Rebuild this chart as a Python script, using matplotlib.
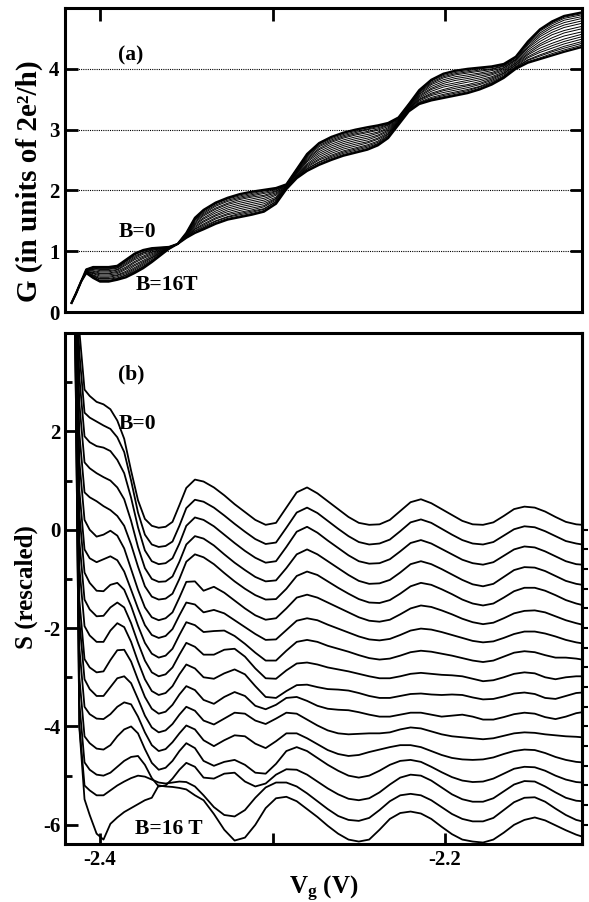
'''
Script used to plot conductance (a) and rescaled thermopower (b) vs gate voltage, B=0..16T
'''
import matplotlib
matplotlib.use('Agg')
import matplotlib.pyplot as plt
from matplotlib.ticker import FixedLocator

# ---------------------------------
# panel (a): gate voltage grid [V] and G [2e^2/h], one list per field value
vg_g = [-2.4165, -2.414, -2.411, -2.408, -2.404, -2.400, -2.395, -2.390, -2.385, -2.380,
        -2.375, -2.370, -2.365, -2.360, -2.355, -2.350, -2.345, -2.340, -2.333, -2.326,
        -2.319, -2.312, -2.305, -2.298, -2.292, -2.286, -2.280, -2.273, -2.266, -2.259,
        -2.252, -2.245, -2.239, -2.233, -2.227, -2.221, -2.215, -2.208, -2.201, -2.194,
        -2.187, -2.180, -2.173, -2.166, -2.159, -2.152, -2.145, -2.138, -2.131, -2.1205]

g_b00 = [0.15, 0.30, 0.50, 0.70, 0.74, 0.74, 0.74, 0.76, 0.86, 0.96, 1.02, 1.05, 1.06, 1.07, 1.12, 1.30, 1.55, 1.68, 1.80, 1.88,
         1.94, 1.98, 2.01, 2.04, 2.10, 2.35, 2.60, 2.78, 2.88, 2.95, 3.00, 3.04, 3.07, 3.11, 3.20, 3.42, 3.65, 3.82, 3.92, 3.97,
         4.00, 4.02, 4.04, 4.08, 4.20, 4.45, 4.65, 4.78, 4.87, 4.93]
g_b01 = [0.15, 0.30, 0.50, 0.70, 0.74, 0.73, 0.73, 0.75, 0.85, 0.95, 1.01, 1.04, 1.06, 1.07, 1.12, 1.30, 1.54, 1.67, 1.79, 1.87,
         1.93, 1.97, 2.00, 2.03, 2.10, 2.35, 2.59, 2.77, 2.87, 2.94, 2.99, 3.03, 3.06, 3.10, 3.20, 3.42, 3.64, 3.81, 3.91, 3.96,
         3.99, 4.01, 4.03, 4.07, 4.19, 4.44, 4.64, 4.76, 4.85, 4.91]
g_b02 = [0.15, 0.30, 0.50, 0.70, 0.73, 0.72, 0.72, 0.74, 0.84, 0.94, 1.00, 1.03, 1.05, 1.07, 1.12, 1.29, 1.53, 1.66, 1.78, 1.86,
         1.91, 1.95, 1.99, 2.02, 2.09, 2.34, 2.58, 2.76, 2.85, 2.92, 2.97, 3.01, 3.05, 3.09, 3.19, 3.41, 3.63, 3.80, 3.89, 3.94,
         3.97, 4.00, 4.02, 4.06, 4.19, 4.43, 4.62, 4.74, 4.83, 4.89]
g_b03 = [0.15, 0.30, 0.50, 0.69, 0.72, 0.71, 0.71, 0.73, 0.83, 0.92, 0.98, 1.02, 1.04, 1.07, 1.12, 1.29, 1.52, 1.64, 1.76, 1.84,
         1.89, 1.93, 1.97, 2.01, 2.09, 2.33, 2.57, 2.74, 2.83, 2.90, 2.95, 3.00, 3.03, 3.08, 3.19, 3.41, 3.62, 3.78, 3.87, 3.92,
         3.95, 3.98, 4.00, 4.05, 4.18, 4.41, 4.59, 4.71, 4.80, 4.86]
g_b04 = [0.15, 0.30, 0.50, 0.69, 0.71, 0.70, 0.70, 0.72, 0.81, 0.90, 0.97, 1.01, 1.04, 1.06, 1.12, 1.29, 1.51, 1.62, 1.74, 1.82,
         1.87, 1.91, 1.95, 1.99, 2.09, 2.32, 2.55, 2.72, 2.81, 2.88, 2.93, 2.97, 3.01, 3.07, 3.18, 3.40, 3.61, 3.76, 3.85, 3.90,
         3.93, 3.96, 3.99, 4.04, 4.16, 4.39, 4.56, 4.68, 4.76, 4.83]
g_b05 = [0.15, 0.30, 0.50, 0.69, 0.70, 0.68, 0.68, 0.70, 0.79, 0.88, 0.95, 0.99, 1.03, 1.06, 1.12, 1.28, 1.49, 1.60, 1.71, 1.79,
         1.85, 1.89, 1.92, 1.98, 2.08, 2.31, 2.53, 2.69, 2.79, 2.86, 2.91, 2.95, 2.99, 3.05, 3.17, 3.39, 3.59, 3.74, 3.82, 3.87,
         3.90, 3.93, 3.97, 4.02, 4.15, 4.36, 4.53, 4.64, 4.72, 4.79]
g_b06 = [0.15, 0.30, 0.50, 0.68, 0.68, 0.66, 0.66, 0.69, 0.77, 0.86, 0.92, 0.98, 1.02, 1.06, 1.12, 1.27, 1.47, 1.58, 1.69, 1.77,
         1.82, 1.86, 1.90, 1.96, 2.07, 2.30, 2.51, 2.67, 2.76, 2.83, 2.88, 2.92, 2.96, 3.03, 3.16, 3.38, 3.58, 3.71, 3.79, 3.84,
         3.87, 3.91, 3.94, 4.01, 4.14, 4.34, 4.49, 4.60, 4.68, 4.75]
g_b07 = [0.15, 0.30, 0.50, 0.68, 0.67, 0.64, 0.64, 0.67, 0.74, 0.83, 0.90, 0.96, 1.01, 1.06, 1.12, 1.27, 1.45, 1.55, 1.66, 1.74,
         1.79, 1.83, 1.87, 1.94, 2.07, 2.29, 2.49, 2.64, 2.73, 2.80, 2.85, 2.89, 2.94, 3.01, 3.15, 3.37, 3.56, 3.68, 3.76, 3.81,
         3.84, 3.88, 3.92, 3.99, 4.12, 4.31, 4.45, 4.56, 4.63, 4.70]
g_b08 = [0.15, 0.30, 0.50, 0.67, 0.65, 0.63, 0.63, 0.65, 0.72, 0.81, 0.88, 0.94, 1.00, 1.06, 1.12, 1.26, 1.43, 1.53, 1.63, 1.71,
         1.76, 1.80, 1.84, 1.92, 2.06, 2.28, 2.47, 2.61, 2.70, 2.77, 2.82, 2.86, 2.91, 2.99, 3.14, 3.36, 3.54, 3.66, 3.73, 3.77,
         3.81, 3.85, 3.90, 3.97, 4.10, 4.28, 4.41, 4.51, 4.59, 4.66]
g_b09 = [0.15, 0.30, 0.50, 0.67, 0.64, 0.61, 0.61, 0.63, 0.70, 0.78, 0.85, 0.92, 0.99, 1.05, 1.12, 1.26, 1.41, 1.50, 1.60, 1.68,
         1.73, 1.77, 1.81, 1.89, 2.06, 2.27, 2.44, 2.58, 2.67, 2.74, 2.79, 2.83, 2.89, 2.97, 3.13, 3.35, 3.52, 3.63, 3.70, 3.74,
         3.78, 3.82, 3.87, 3.95, 4.09, 4.25, 4.38, 4.47, 4.54, 4.61]
g_b10 = [0.15, 0.30, 0.50, 0.66, 0.63, 0.59, 0.59, 0.61, 0.67, 0.76, 0.83, 0.90, 0.98, 1.05, 1.12, 1.25, 1.39, 1.48, 1.58, 1.65,
         1.70, 1.74, 1.78, 1.87, 2.05, 2.25, 2.42, 2.55, 2.64, 2.71, 2.76, 2.80, 2.86, 2.95, 3.12, 3.34, 3.50, 3.60, 3.66, 3.71,
         3.74, 3.79, 3.85, 3.93, 4.07, 4.23, 4.34, 4.42, 4.49, 4.57]
g_b11 = [0.15, 0.30, 0.50, 0.66, 0.61, 0.57, 0.57, 0.60, 0.65, 0.73, 0.81, 0.89, 0.97, 1.05, 1.12, 1.24, 1.37, 1.45, 1.55, 1.62,
         1.67, 1.71, 1.75, 1.86, 2.04, 2.24, 2.40, 2.52, 2.61, 2.68, 2.73, 2.78, 2.84, 2.93, 3.12, 3.34, 3.49, 3.58, 3.64, 3.68,
         3.72, 3.76, 3.83, 3.92, 4.06, 4.20, 4.30, 4.38, 4.45, 4.53]
g_b12 = [0.15, 0.30, 0.50, 0.65, 0.60, 0.55, 0.55, 0.58, 0.63, 0.71, 0.79, 0.87, 0.96, 1.05, 1.12, 1.24, 1.36, 1.43, 1.53, 1.60,
         1.64, 1.68, 1.73, 1.84, 2.04, 2.23, 2.38, 2.50, 2.58, 2.65, 2.70, 2.75, 2.81, 2.92, 3.11, 3.33, 3.47, 3.56, 3.61, 3.65,
         3.69, 3.74, 3.81, 3.90, 4.04, 4.18, 4.27, 4.34, 4.41, 4.49]
g_b13 = [0.15, 0.30, 0.50, 0.65, 0.59, 0.54, 0.54, 0.56, 0.61, 0.69, 0.77, 0.85, 0.95, 1.04, 1.12, 1.23, 1.34, 1.41, 1.50, 1.57,
         1.62, 1.66, 1.70, 1.82, 2.03, 2.22, 2.36, 2.47, 2.56, 2.63, 2.68, 2.73, 2.79, 2.90, 3.10, 3.32, 3.45, 3.53, 3.58, 3.62,
         3.66, 3.71, 3.79, 3.88, 4.03, 4.15, 4.23, 4.30, 4.37, 4.45]
g_b14 = [0.15, 0.30, 0.50, 0.65, 0.58, 0.52, 0.52, 0.55, 0.60, 0.67, 0.75, 0.84, 0.94, 1.04, 1.12, 1.23, 1.33, 1.39, 1.49, 1.56,
         1.60, 1.64, 1.69, 1.81, 2.03, 2.22, 2.35, 2.46, 2.54, 2.61, 2.66, 2.71, 2.77, 2.89, 3.09, 3.31, 3.44, 3.51, 3.56, 3.60,
         3.64, 3.70, 3.77, 3.87, 4.02, 4.14, 4.21, 4.28, 4.34, 4.42]
g_b15 = [0.15, 0.30, 0.50, 0.64, 0.57, 0.51, 0.51, 0.54, 0.58, 0.66, 0.74, 0.83, 0.94, 1.04, 1.12, 1.22, 1.31, 1.38, 1.47, 1.54,
         1.58, 1.62, 1.67, 1.79, 2.02, 2.21, 2.33, 2.44, 2.52, 2.59, 2.64, 2.69, 2.76, 2.87, 3.09, 3.31, 3.43, 3.50, 3.54, 3.58,
         3.62, 3.68, 3.76, 3.86, 4.01, 4.12, 4.18, 4.25, 4.31, 4.39]
g_b16 = [0.15, 0.30, 0.50, 0.64, 0.56, 0.50, 0.50, 0.53, 0.57, 0.64, 0.72, 0.82, 0.93, 1.04, 1.12, 1.22, 1.30, 1.36, 1.45, 1.52,
         1.56, 1.60, 1.65, 1.78, 2.02, 2.20, 2.32, 2.42, 2.50, 2.57, 2.62, 2.67, 2.74, 2.86, 3.08, 3.30, 3.42, 3.48, 3.52, 3.56,
         3.60, 3.66, 3.74, 3.85, 4.00, 4.10, 4.16, 4.22, 4.28, 4.36]

# ---------------------------------
# panel (b): gate voltage grid [V], S trace above its offset, offsets of traces
vg_s = [-2.420, -2.415, -2.412, -2.409, -2.406, -2.402, -2.398, -2.394, -2.390, -2.386,
        -2.382, -2.378, -2.374, -2.370, -2.366, -2.362, -2.358, -2.354, -2.350, -2.345,
        -2.340, -2.334, -2.328, -2.322, -2.316, -2.310, -2.304, -2.298, -2.292, -2.286,
        -2.280, -2.274, -2.268, -2.262, -2.256, -2.250, -2.244, -2.238, -2.232, -2.226,
        -2.220, -2.214, -2.208, -2.202, -2.196, -2.190, -2.184, -2.178, -2.172, -2.166,
        -2.160, -2.154, -2.148, -2.142, -2.136, -2.130, -2.124, -2.1205]

s_b00 = [8.0, 6.0, 4.05, 2.85, 2.72, 2.6, 2.55, 2.45, 2.22, 1.85, 1.2, 0.6, 0.22, 0.08, 0.04, 0.06, 0.16, 0.5, 0.85, 1.02,
         0.98, 0.86, 0.7, 0.52, 0.36, 0.2, 0.1, 0.14, 0.45, 0.76, 0.86, 0.74, 0.58, 0.42, 0.26, 0.14, 0.1, 0.11, 0.2, 0.38,
         0.56, 0.62, 0.54, 0.42, 0.3, 0.18, 0.11, 0.1, 0.15, 0.28, 0.42, 0.47, 0.45, 0.37, 0.26, 0.16, 0.11, 0.1]
s_b01 = [8.4, 6.4, 4.0, 2.78, 2.68, 2.6, 2.52, 2.45, 2.28, 1.98, 1.4, 0.75, 0.3, 0.1, 0.05, 0.07, 0.16, 0.48, 0.84, 1.01,
         0.97, 0.85, 0.69, 0.52, 0.36, 0.21, 0.11, 0.14, 0.44, 0.75, 0.85, 0.74, 0.58, 0.42, 0.27, 0.15, 0.1, 0.12, 0.2, 0.37,
         0.55, 0.61, 0.54, 0.42, 0.3, 0.19, 0.12, 0.1, 0.15, 0.28, 0.41, 0.47, 0.45, 0.37, 0.27, 0.17, 0.12, 0.1]
s_b02 = [8.8, 6.8, 3.9, 2.7, 2.58, 2.5, 2.47, 2.4, 2.22, 1.95, 1.45, 0.85, 0.38, 0.16, 0.1, 0.12, 0.22, 0.52, 0.88, 1.05,
         1.0, 0.87, 0.7, 0.53, 0.37, 0.23, 0.13, 0.16, 0.45, 0.76, 0.86, 0.74, 0.58, 0.43, 0.28, 0.16, 0.11, 0.12, 0.2, 0.36,
         0.53, 0.59, 0.52, 0.41, 0.3, 0.19, 0.12, 0.09, 0.14, 0.27, 0.4, 0.46, 0.44, 0.36, 0.26, 0.16, 0.1, 0.09]
s_b03 = [9.2, 7.2, 3.77, 2.57, 2.45, 2.35, 2.27, 2.2, 2.06, 1.82, 1.38, 0.85, 0.42, 0.2, 0.14, 0.15, 0.25, 0.55, 0.9, 1.07,
         1.02, 0.88, 0.7, 0.53, 0.38, 0.24, 0.15, 0.17, 0.42, 0.7, 0.8, 0.7, 0.56, 0.42, 0.28, 0.16, 0.1, 0.11, 0.18, 0.33,
         0.5, 0.56, 0.5, 0.4, 0.29, 0.18, 0.09, 0.05, 0.1, 0.24, 0.38, 0.44, 0.43, 0.36, 0.26, 0.16, 0.1, 0.08]
s_b04 = [9.6, 7.6, 3.56, 2.36, 2.26, 2.18, 2.08, 2.0, 1.88, 1.68, 1.3, 0.85, 0.45, 0.24, 0.18, 0.2, 0.3, 0.6, 0.95, 1.1,
         1.04, 0.9, 0.72, 0.55, 0.4, 0.27, 0.18, 0.19, 0.4, 0.66, 0.75, 0.68, 0.55, 0.42, 0.3, 0.19, 0.12, 0.11, 0.17, 0.3,
         0.45, 0.52, 0.48, 0.39, 0.29, 0.18, 0.1, 0.06, 0.1, 0.22, 0.35, 0.42, 0.42, 0.36, 0.27, 0.17, 0.1, 0.07]
s_b05 = [10.0, 8.0, 3.4, 2.2, 2.0, 1.86, 1.9, 1.98, 1.88, 1.62, 1.2, 0.78, 0.42, 0.22, 0.16, 0.2, 0.32, 0.62, 0.94, 0.95,
         0.76, 0.84, 0.72, 0.56, 0.4, 0.26, 0.17, 0.2, 0.4, 0.62, 0.68, 0.62, 0.52, 0.42, 0.32, 0.22, 0.15, 0.13, 0.17, 0.28,
         0.4, 0.46, 0.43, 0.36, 0.28, 0.19, 0.12, 0.08, 0.11, 0.2, 0.3, 0.35, 0.36, 0.32, 0.24, 0.16, 0.1, 0.07]
s_b06 = [10.4, 8.4, 3.2, 2.0, 1.82, 1.74, 1.8, 1.86, 1.78, 1.55, 1.18, 0.8, 0.46, 0.26, 0.2, 0.24, 0.38, 0.66, 0.92, 0.88,
         0.72, 0.77, 0.7, 0.56, 0.42, 0.28, 0.16, 0.17, 0.36, 0.55, 0.6, 0.56, 0.47, 0.39, 0.31, 0.23, 0.17, 0.15, 0.18, 0.26,
         0.35, 0.39, 0.37, 0.32, 0.26, 0.2, 0.14, 0.11, 0.13, 0.2, 0.28, 0.33, 0.33, 0.29, 0.23, 0.16, 0.11, 0.09]
s_b07 = [10.8, 8.8, 3.13, 1.93, 1.72, 1.56, 1.55, 1.68, 1.72, 1.58, 1.25, 0.85, 0.5, 0.28, 0.2, 0.24, 0.38, 0.66, 0.92, 0.86,
         0.72, 0.74, 0.75, 0.64, 0.48, 0.3, 0.14, 0.14, 0.34, 0.52, 0.56, 0.52, 0.44, 0.38, 0.32, 0.25, 0.19, 0.16, 0.18, 0.24,
         0.31, 0.34, 0.32, 0.28, 0.24, 0.19, 0.14, 0.11, 0.14, 0.22, 0.3, 0.33, 0.31, 0.25, 0.2, 0.2, 0.18, 0.16]
s_b08 = [11.2, 9.2, 2.98, 1.78, 1.58, 1.44, 1.45, 1.62, 1.72, 1.62, 1.3, 0.9, 0.54, 0.3, 0.22, 0.26, 0.4, 0.66, 0.9, 0.82,
         0.66, 0.66, 0.76, 0.78, 0.62, 0.38, 0.18, 0.17, 0.34, 0.48, 0.5, 0.46, 0.4, 0.36, 0.32, 0.27, 0.22, 0.18, 0.18, 0.22,
         0.27, 0.29, 0.27, 0.25, 0.24, 0.22, 0.17, 0.12, 0.14, 0.2, 0.27, 0.3, 0.28, 0.2, 0.16, 0.2, 0.22, 0.22]
s_b09 = [11.6, 9.6, 2.84, 1.64, 1.45, 1.32, 1.32, 1.55, 1.7, 1.62, 1.32, 0.92, 0.56, 0.32, 0.24, 0.28, 0.42, 0.66, 0.86, 0.78,
         0.6, 0.57, 0.68, 0.76, 0.66, 0.42, 0.2, 0.18, 0.32, 0.44, 0.45, 0.4, 0.36, 0.35, 0.33, 0.28, 0.22, 0.18, 0.18, 0.22,
         0.26, 0.27, 0.25, 0.24, 0.25, 0.24, 0.19, 0.15, 0.16, 0.21, 0.27, 0.29, 0.26, 0.18, 0.16, 0.22, 0.28, 0.29]
s_b10 = [12.0, 10.0, 2.57, 1.37, 1.2, 1.1, 1.12, 1.35, 1.55, 1.56, 1.32, 0.95, 0.6, 0.36, 0.26, 0.3, 0.44, 0.65, 0.82, 0.74,
         0.54, 0.46, 0.6, 0.7, 0.62, 0.42, 0.35, 0.44, 0.58, 0.6, 0.52, 0.42, 0.36, 0.34, 0.33, 0.29, 0.24, 0.2, 0.2, 0.24,
         0.28, 0.28, 0.24, 0.2, 0.22, 0.24, 0.2, 0.14, 0.14, 0.19, 0.25, 0.28, 0.26, 0.19, 0.15, 0.2, 0.27, 0.29]
s_b11 = [12.4, 10.4, 2.56, 1.36, 1.16, 1.02, 1.02, 1.2, 1.38, 1.42, 1.28, 0.96, 0.62, 0.38, 0.28, 0.32, 0.45, 0.64, 0.8, 0.72,
         0.52, 0.44, 0.56, 0.68, 0.66, 0.52, 0.45, 0.56, 0.68, 0.66, 0.54, 0.42, 0.32, 0.26, 0.24, 0.25, 0.26, 0.26, 0.28, 0.34,
         0.38, 0.36, 0.3, 0.24, 0.2, 0.18, 0.16, 0.14, 0.16, 0.21, 0.26, 0.28, 0.27, 0.24, 0.22, 0.2, 0.19, 0.18]
s_b12 = [12.8, 10.8, 2.4, 1.2, 1.05, 0.96, 0.95, 1.05, 1.2, 1.29, 1.25, 1.0, 0.68, 0.42, 0.3, 0.34, 0.48, 0.66, 0.82, 0.74,
         0.52, 0.4, 0.52, 0.62, 0.6, 0.45, 0.36, 0.5, 0.66, 0.66, 0.56, 0.44, 0.32, 0.24, 0.2, 0.22, 0.28, 0.33, 0.38, 0.42,
         0.42, 0.38, 0.3, 0.22, 0.16, 0.13, 0.12, 0.13, 0.17, 0.24, 0.3, 0.33, 0.32, 0.26, 0.18, 0.12, 0.08, 0.07]
s_b13 = [13.2, 11.2, 2.2, 1.0, 0.86, 0.75, 0.73, 0.82, 1.0, 1.14, 1.2, 1.06, 0.74, 0.46, 0.32, 0.36, 0.5, 0.7, 0.86, 0.76,
         0.5, 0.4, 0.48, 0.52, 0.42, 0.26, 0.24, 0.44, 0.7, 0.78, 0.7, 0.56, 0.42, 0.3, 0.2, 0.16, 0.2, 0.3, 0.42, 0.5,
         0.52, 0.48, 0.38, 0.27, 0.17, 0.1, 0.07, 0.08, 0.14, 0.24, 0.34, 0.38, 0.37, 0.3, 0.2, 0.12, 0.07, 0.06]
s_b14 = [13.6, 11.6, 2.07, 0.87, 0.72, 0.62, 0.6, 0.66, 0.78, 0.9, 0.98, 1.0, 0.82, 0.55, 0.38, 0.4, 0.54, 0.72, 0.86, 0.78,
         0.56, 0.54, 0.64, 0.66, 0.48, 0.38, 0.44, 0.62, 0.73, 0.72, 0.62, 0.48, 0.34, 0.22, 0.13, 0.1, 0.14, 0.26, 0.42, 0.56,
         0.62, 0.6, 0.5, 0.36, 0.22, 0.12, 0.07, 0.07, 0.14, 0.28, 0.42, 0.49, 0.48, 0.38, 0.26, 0.15, 0.09, 0.08]
s_b15 = [14.0, 12.0, 2.02, 0.8, 0.7, 0.6, 0.6, 0.7, 0.8, 0.88, 0.95, 1.0, 0.98, 0.92, 0.86, 0.84, 0.86, 0.88, 0.87, 0.78,
         0.6, 0.36, 0.2, 0.17, 0.3, 0.55, 0.76, 0.86, 0.86, 0.78, 0.64, 0.48, 0.32, 0.18, 0.1, 0.08, 0.14, 0.3, 0.48, 0.6,
         0.63, 0.6, 0.5, 0.36, 0.22, 0.12, 0.07, 0.07, 0.14, 0.3, 0.46, 0.55, 0.56, 0.47, 0.33, 0.2, 0.1, 0.07]
s_b16 = [14.4, 12.4, 2.38, 0.92, 0.6, 0.22, 0.1, 0.42, 0.55, 0.66, 0.74, 0.82, 0.9, 0.95, 1.2, 1.18, 1.17, 1.15, 1.12, 1.0,
         0.9, 0.62, 0.3, 0.08, 0.14, 0.4, 0.74, 0.94, 0.97, 0.88, 0.72, 0.56, 0.38, 0.22, 0.1, 0.06, 0.1, 0.3, 0.52, 0.64,
         0.67, 0.63, 0.52, 0.36, 0.21, 0.1, 0.06, 0.04, 0.1, 0.24, 0.4, 0.5, 0.55, 0.49, 0.39, 0.29, 0.2, 0.16]

s_offset = [0.0, -0.4, -0.8, -1.2, -1.6, -2.0, -2.4, -2.8, -3.2, -3.6, -4.0, -4.4, -4.8, -5.2, -5.6, -6.0, -6.4]

l_g = [g_b00, g_b01, g_b02, g_b03, g_b04, g_b05, g_b06, g_b07, g_b08,
       g_b09, g_b10, g_b11, g_b12, g_b13, g_b14, g_b15, g_b16]
l_s = [s_b00, s_b01, s_b02, s_b03, s_b04, s_b05, s_b06, s_b07, s_b08,
       s_b09, s_b10, s_b11, s_b12, s_b13, s_b14, s_b15, s_b16]

# ---------------------------------
class Data:
    '''
    Layout and style
    '''
    figsize  = 5.89, 9.02
    dpi      = 100
    xlim     = -2.4203, -2.1206
    ylim_g   = 0.0, 5.0
    ylim_s   = -6.39, 4.0
    pos_top  = [0.1104, 0.6541, 0.8778, 0.3370]
    pos_bot  = [0.1104, 0.0643, 0.8778, 0.5665]
    spine_lw = 2.2
    tck_size = 15
    txt_size = 15.5
# ------------------------------------
def _initialize() -> None:
    plt.rcParams['font.family']        = ['Liberation Serif', 'DejaVu Serif']
    plt.rcParams['font.weight']        = 'bold'
    plt.rcParams['axes.labelweight']   = 'bold'
    plt.rcParams['axes.unicode_minus'] = False
    plt.rcParams['mathtext.fontset']   = 'custom'
    plt.rcParams['mathtext.rm']        = 'Liberation Serif:bold'
    plt.rcParams['mathtext.it']        = 'Liberation Serif:bold'
    plt.rcParams['mathtext.bf']        = 'Liberation Serif:bold'
# ------------------------------------
def _style_axis(ax) -> None:
    for spine in ax.spines.values():
        spine.set_linewidth(Data.spine_lw)

    ax.set_xlim(*Data.xlim)
    ax.xaxis.set_major_locator(FixedLocator([-2.4, -2.3, -2.2]))
    ax.xaxis.set_minor_locator(FixedLocator([]))
# ------------------------------------
def _plot_top(ax) -> None:
    for i_b, g_val in enumerate(l_g):
        lw = 1.6 if i_b in (0, len(l_g) - 1) else 0.7
        ax.plot(vg_g, g_val, color='black', lw=lw, solid_joinstyle='round')

    _style_axis(ax)
    ax.set_ylim(*Data.ylim_g)
    ax.yaxis.set_major_locator(FixedLocator([0, 1, 2, 3, 4]))
    ax.grid(axis='y', color='black', lw=0.8, ls=(0, (1, 1)))
    ax.set_axisbelow(True)

    ax.tick_params(axis='x', bottom=False, top=True, labelbottom=False,
                   direction='in', length=9, width=2)
    ax.tick_params(axis='y', left=True, right=True, direction='in', length=9, width=2,
                   labelsize=Data.tck_size, pad=4)

    ax.set_ylabel('G (in units of 2e\u00b2/h)', fontsize=21)
    ax.yaxis.set_label_coords(-0.042, 0.43)

    ax.text(-2.382, 4.22, '(a)',    fontsize=Data.txt_size, ha='center', va='center')
    ax.text(-2.3783, 1.32, 'B=0',   fontsize=Data.txt_size, ha='center', va='center')
    ax.text(-2.3609, 0.45, 'B=16T', fontsize=Data.txt_size, ha='center', va='center')
# ------------------------------------
def _plot_bottom(ax) -> None:
    for s_val, off in zip(l_s, s_offset):
        arr_s = [val + off for val in s_val]
        ax.plot(vg_s, arr_s, color='black', lw=1.3, solid_joinstyle='round')

    _style_axis(ax)
    ax.set_ylim(*Data.ylim_s)
    ax.xaxis.set_ticklabels(['-2.4', '', '-2.2'])
    ax.yaxis.set_major_locator(FixedLocator([-6, -4, -2, 0, 2]))
    ax.yaxis.set_minor_locator(FixedLocator([-5, -3, -1, 1, 3]))

    ax.tick_params(axis='x', bottom=True, top=False, direction='in', length=8, width=2,
                   labelsize=Data.tck_size, pad=4)
    ax.tick_params(axis='y', which='major', left=True, right=False, direction='in',
                   length=9, width=2, labelsize=Data.tck_size, pad=3)
    ax.tick_params(axis='y', which='minor', left=True, right=False, direction='in',
                   length=5, width=2)

    sec = ax.secondary_yaxis('right')
    sec.spines['right'].set_linewidth(Data.spine_lw)
    sec.yaxis.set_major_locator(FixedLocator(s_offset[:-1]))
    sec.yaxis.set_minor_locator(FixedLocator([]))
    sec.tick_params(axis='y', direction='out', length=4, width=1.5, labelright=False)

    ax.set_ylabel('S (rescaled)', fontsize=18)
    ax.yaxis.set_label_coords(-0.052, 0.503)
    ax.set_xlabel(r'V$_{\mathrm{g}}$ (V)', fontsize=18)
    ax.xaxis.set_label_coords(0.5, -0.058)

    ax.text(-2.3817, 3.16, '(b)',    fontsize=Data.txt_size, ha='center', va='center')
    ax.text(-2.3783, 2.16, 'B=0',    fontsize=Data.txt_size, ha='center', va='center')
    ax.text(-2.3600, -6.08, 'B=16 T', fontsize=Data.txt_size, ha='center', va='center')
# ------------------------------------
def main():
    '''
    start here
    '''
    _initialize()

    fig    = plt.figure(figsize=Data.figsize, dpi=Data.dpi)
    ax_top = fig.add_axes(Data.pos_top)
    ax_bot = fig.add_axes(Data.pos_bot)

    _plot_top(ax_top)
    _plot_bottom(ax_bot)

    fig.savefig('out.png', dpi=Data.dpi)
    plt.close(fig)
# ------------------------------------
if __name__ == '__main__':
    main()
